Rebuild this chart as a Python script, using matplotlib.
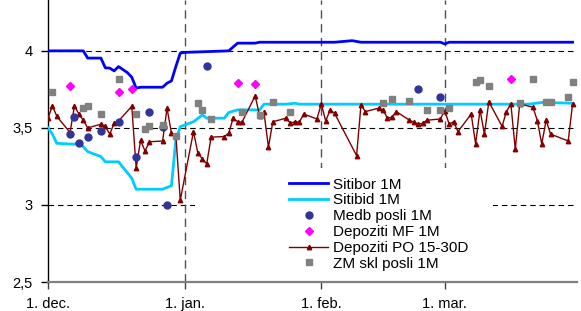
import matplotlib
matplotlib.use("Agg")
import matplotlib.pyplot as plt
import pandas as pd
from matplotlib.patches import Rectangle

plt.rcParams["font.family"] = ["Liberation Sans", "DejaVu Sans"]
plt.rcParams["font.size"] = 10

START = pd.Timestamp("2005-12-01")
END = pd.Timestamp("2006-03-31")

# day offsets counted from 1. dec.
sitibor_days = [0, 8, 9, 12, 13, 14, 15, 16, 18, 19, 20, 21, 26, 27, 28, 29, 30, 31, 41, 43,
                47, 48, 65, 69, 71, 89, 90, 91, 119]
sitibor_vals = [4.0, 4.0, 3.953, 3.953, 3.89, 3.888, 3.87, 3.898, 3.859, 3.829, 3.758, 3.764,
                3.764, 3.79, 3.805, 3.898, 3.985, 3.99, 4.0, 4.05, 4.05, 4.056, 4.056, 4.066,
                4.056, 4.056, 4.045, 4.056, 4.056]

sitibid_days = [0, 1, 2, 6, 7, 9, 12, 13, 16, 19, 20, 26, 28, 29, 30, 33, 35, 36, 40, 41, 43,
                48, 49, 54, 56, 57, 109, 112, 119]
sitibid_vals = [3.50, 3.46, 3.40, 3.394, 3.41, 3.346, 3.314, 3.28, 3.28, 3.173, 3.102, 3.102,
                3.125, 3.42, 3.508, 3.54, 3.584, 3.563, 3.563, 3.60, 3.617, 3.617, 3.654, 3.654,
                3.66, 3.654, 3.654, 3.665, 3.66]

medb_days = [5, 6, 7, 9, 12, 16, 20, 23, 26, 27, 36, 84, 89]
medb_vals = [3.46, 3.57, 3.40, 3.44, 3.48, 3.54, 3.31, 3.605, 3.505, 3.0, 3.90, 3.75, 3.70]

mf_days = [5, 16, 19, 43, 47, 105]
mf_vals = [3.77, 3.73, 3.75, 3.79, 3.785, 3.82]

po_days = [0, 1, 2, 5, 6, 7, 8, 9, 12, 13, 14, 15, 16, 19, 20, 21, 22, 23, 26, 27, 28, 29, 30,
           33, 34, 35, 36, 37, 40, 41, 42, 43, 44, 47, 48, 49, 50, 51, 54, 55, 56, 57, 58, 61,
           62, 63, 64, 65, 70, 71, 72, 75, 76, 77, 78, 79, 82, 83, 84, 85, 86, 89, 90, 91, 92,
           93, 96, 97, 98, 99, 100, 103, 104, 105, 106, 107, 110, 111, 112, 113, 114, 118, 119]
po_vals = [3.563, 3.643, 3.575, 3.47, 3.643, 3.59, 3.55, 3.50, 3.524, 3.51, 3.46, 3.53, 3.545,
           3.64, 3.24, 3.42, 3.35, 3.41, 3.415, 3.628, 3.466, 3.455, 3.03, 3.476, 3.336, 3.30,
           3.266, 3.44, 3.444, 3.466, 3.563, 3.54, 3.537, 3.708, 3.578, 3.60, 3.375, 3.54,
           3.563, 3.53, 3.54, 3.537, 3.59, 3.558, 3.656, 3.545, 3.617, 3.595, 3.32, 3.65,
           3.606, 3.628, 3.617, 3.563, 3.57, 3.606, 3.55, 3.537, 3.524, 3.53, 3.55, 3.558,
           3.612, 3.524, 3.54, 3.476, 3.59, 3.396, 3.617, 3.46, 3.67, 3.51, 3.606, 3.656, 3.36,
           3.656, 3.634, 3.548, 3.396, 3.55, 3.46, 3.415, 3.656]

zm_days = [1, 8, 9, 12, 16, 20, 22, 23, 26, 29, 34, 35, 37, 44, 48, 51, 55, 76, 78, 82, 86, 89,
           91, 97, 98, 100, 107, 110, 113, 114, 118, 119]
zm_vals = [3.736, 3.63, 3.645, 3.59, 3.82, 3.59, 3.49, 3.51, 3.52, 3.45, 3.66, 3.617, 3.558,
           3.606, 3.584, 3.67, 3.606, 3.66, 3.69, 3.677, 3.617, 3.617, 3.628, 3.80, 3.81, 3.77,
           3.66, 3.82, 3.67, 3.67, 3.70, 3.80]

month_ticks = ["2005-12-01", "2006-01-01", "2006-02-01", "2006-03-01"]
month_labels = ["1. dec.", "1. jan.", "1. feb.", "1. mar."]
y_ticks = [2.5, 3.0, 3.5, 4.0]
y_labels = ["2,5", "3", "3,5", "4"]


def to_dates(days):
    return START + pd.to_timedelta(days, unit="D")


fig = plt.figure(figsize=(5.81, 3.11), dpi=100)
ax = fig.add_axes([48 / 581, 29 / 311, 529 / 581, 282 / 311])

for y in y_ticks[1:]:
    ax.axhline(y, color="black", lw=0.8, dashes=(5, 3.5), zorder=1)
for d in month_ticks[1:]:
    ax.axvline(pd.Timestamp(d), color="#505050", lw=1.0, dashes=(6, 4), zorder=1)

# white box behind the legend hides the grid there
ax.add_patch(Rectangle((0.278, 0.0), 0.563, 0.404, transform=ax.transAxes,
                       facecolor="white", edgecolor="none", zorder=2))

ax.plot(to_dates(sitibor_days), sitibor_vals, color="#0000FF", lw=2.0, zorder=3, label="Sitibor 1M")
ax.plot(to_dates(sitibid_days), sitibid_vals, color="#00CCFF", lw=2.0, zorder=3, label="Sitibid 1M")
ax.plot(to_dates(medb_days), medb_vals, ls="none", marker="o", ms=5, color="#333399",
        zorder=5, label="Medb posli 1M")
ax.plot(to_dates(mf_days), mf_vals, ls="none", marker="D", ms=4, color="#FF00FF",
        zorder=5, label="Depoziti MF 1M")
ax.plot(to_dates(po_days), po_vals, color="#800000", lw=1.0, marker="^", ms=3.2,
        zorder=4, label="Depoziti PO 15-30D")
ax.plot(to_dates(zm_days), zm_vals, ls="none", marker="s", ms=5, color="#808080",
        zorder=5, label="ZM skl posli 1M")

ax.set_xlim(START, END)
ax.set_ylim(2.5, 4.33)
ax.set_xticks([pd.Timestamp(d) for d in month_ticks])
ax.set_xticklabels(month_labels)
ax.set_yticks(y_ticks)
ax.set_yticklabels(y_labels)

for side in ("top", "right"):
    ax.spines[side].set_visible(False)
ax.spines["left"].set_color("black")
ax.spines["left"].set_linewidth(1.0)
ax.spines["bottom"].set_color("#808080")
ax.spines["bottom"].set_linewidth(1.6)
ax.tick_params(axis="y", direction="out", length=5, width=1, color="black", pad=6, labelsize=10.5)
ax.tick_params(axis="x", direction="out", length=5, width=1, color="#404040", pad=6, labelsize=10.5)

leg = ax.legend(loc="upper left", bbox_to_anchor=(0.455, 0.37), frameon=False, numpoints=1,
                handlelength=2.6, handletextpad=0.3, labelspacing=0.12, borderaxespad=0,
                borderpad=0, fontsize=11)
leg.set_zorder(6)

fig.savefig("out.png", dpi=100)
